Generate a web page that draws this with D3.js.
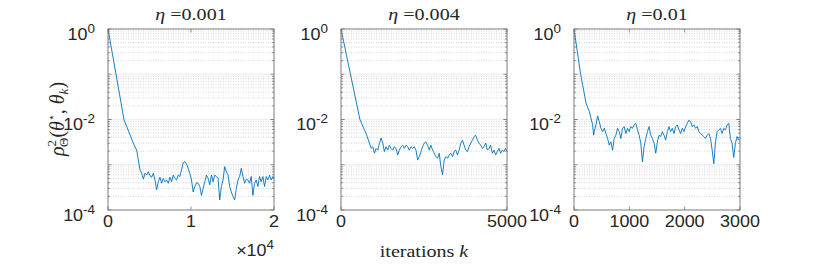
<!DOCTYPE html>
<html>
<head>
<meta charset="utf-8">
<script src="https://cdn.jsdelivr.net/npm/d3@7"></script>
<style>
  body { margin: 0; background: #fff; }
  text { fill: #262626; }
</style>
</head>
<body>
<div id="chart"></div>
<script>
// step sizes shown in the panel titles
const etas = ["0.001", "0.004", "0.01"];
const xMaxes = [20000, 5000, 3000];
const xTicks = [[0, 10000, 20000], [0, 5000], [0, 1000, 2000, 3000]];
const xTickLabels = [["0", "1", "2"], ["0", "5000"], ["0", "1000", "2000", "3000"]];
const yTicks = [1e-4, 1e-2, 1];
const yTickExps = ["-4", "-2", "0"];

// [iteration k, rho^2]
const series1 = [
  [0, 1], [1000, 0.092], [1930, 0.0098], [3050, 3.0e-3], [3450, 2.1e-3], [3860, 7.7e-4],
  [4060, 6.5e-4], [4260, 4.8e-4], [4460, 6.5e-4], [4660, 5.9e-4], [4860, 7.0e-4], [5060, 5.7e-4],
  [5260, 5.3e-4], [5460, 6.5e-4], [5660, 4.6e-4], [5860, 2.8e-4], [6060, 4.2e-4], [6260, 5.3e-4],
  [6460, 3.9e-4], [6660, 5.0e-4], [6860, 4.2e-4], [7060, 4.6e-4], [7260, 3.9e-4], [7460, 5.3e-4],
  [7660, 4.2e-4], [7860, 5.9e-4], [8060, 5.0e-4], [8260, 4.6e-4], [8460, 5.9e-4], [8660, 5.5e-4],
  [8860, 7.7e-4], [9060, 1.11e-3], [9260, 1.17e-3], [9460, 1.04e-3], [9660, 8.3e-4], [9860, 6.5e-4],
  [10060, 4.6e-4], [10260, 2.5e-4], [10460, 3.3e-4], [10660, 4.0e-4], [10860, 3.9e-4], [11060, 3.3e-4],
  [11260, 2.1e-4], [11460, 3.0e-4], [11660, 4.2e-4], [11860, 5.9e-4], [12060, 5.0e-4], [12260, 3.6e-4],
  [12460, 5.9e-4], [12660, 4.2e-4], [12860, 5.9e-4], [13060, 5.5e-4], [13260, 5.0e-4], [13460, 1.66e-4],
  [13660, 3.3e-4], [13860, 4.6e-4], [14060, 9.1e-4], [14260, 7.0e-4], [14460, 5.9e-4], [14660, 3.3e-4],
  [14860, 2.5e-4], [15060, 2.0e-4], [15260, 1.66e-4], [15460, 3.0e-4], [15660, 4.6e-4], [15860, 5.5e-4],
  [16060, 8.3e-4], [16260, 5.5e-4], [16460, 3.9e-4], [16660, 4.8e-4], [16860, 4.6e-4], [17060, 3.9e-4],
  [17260, 5.5e-4], [17460, 2.1e-4], [17660, 3.9e-4], [17860, 4.6e-4], [18060, 3.3e-4], [18260, 5.5e-4],
  [18460, 4.2e-4], [18660, 5.5e-4], [18860, 3.3e-4], [19060, 5.5e-4], [19260, 4.6e-4], [19460, 5.9e-4],
  [19660, 4.6e-4], [19860, 5.5e-4], [20000, 5.0e-4]
];

const series2 = [
  [0, 1], [570, 0.01], [620, 8.2e-3], [760, 4.8e-3], [858, 3.0e-3], [908, 2.3e-3],
  [958, 2.5e-3], [1008, 1.8e-3], [1058, 2.3e-3], [1108, 2.1e-3], [1158, 3.0e-3], [1208, 3.9e-3],
  [1258, 3.0e-3], [1308, 1.95e-3], [1358, 2.5e-3], [1408, 2.1e-3], [1458, 2.7e-3], [1508, 2.3e-3],
  [1558, 2.1e-3], [1608, 2.5e-3], [1658, 2.3e-3], [1708, 1.64e-3], [1758, 2.1e-3], [1808, 2.5e-3],
  [1858, 2.7e-3], [1908, 2.3e-3], [1958, 2.7e-3], [2008, 2.5e-3], [2058, 2.1e-3], [2108, 2.5e-3],
  [2158, 2.3e-3], [2208, 2.5e-3], [2258, 2.1e-3], [2308, 1.27e-3], [2358, 1.51e-3], [2408, 1.95e-3],
  [2458, 2.5e-3], [2508, 3.0e-3], [2558, 3.2e-3], [2608, 2.7e-3], [2658, 2.1e-3], [2708, 2.7e-3],
  [2758, 2.1e-3], [2808, 1.8e-3], [2858, 1.51e-3], [2908, 1.39e-3], [2958, 1.8e-3], [3008, 9.1e-4],
  [3058, 6.0e-4], [3108, 1.27e-3], [3158, 1.51e-3], [3208, 1.39e-3], [3258, 1.64e-3], [3308, 1.8e-3],
  [3358, 1.51e-3], [3408, 1.95e-3], [3458, 2.1e-3], [3508, 1.64e-3], [3558, 2.1e-3], [3608, 3.0e-3],
  [3658, 3.5e-3], [3708, 2.7e-3], [3758, 2.1e-3], [3808, 1.95e-3], [3858, 2.5e-3], [3908, 3.0e-3],
  [3958, 3.5e-3], [4008, 4.2e-3], [4058, 4.5e-3], [4108, 3.5e-3], [4158, 3.0e-3], [4208, 2.7e-3],
  [4258, 2.3e-3], [4308, 2.5e-3], [4358, 3.0e-3], [4408, 2.1e-3], [4458, 2.3e-3], [4508, 2.7e-3],
  [4558, 1.8e-3], [4608, 2.1e-3], [4658, 1.64e-3], [4708, 1.95e-3], [4758, 2.3e-3], [4808, 1.8e-3],
  [4858, 2.1e-3], [4908, 1.95e-3], [4958, 2.3e-3], [5000, 1.95e-3]
];

const series3 = [
  [0, 1], [120, 0.1], [157, 0.058], [217, 0.023], [277, 0.0149], [337, 7.6e-3], [355, 4.5e-3],
  [367, 5.4e-3], [397, 7.6e-3], [427, 1.2e-2], [457, 8.95e-3], [487, 6.4e-3], [517, 5.4e-3],
  [547, 6.4e-3], [577, 4.9e-3], [607, 3.8e-3], [637, 2.7e-3], [667, 3.2e-3], [697, 2.1e-3],
  [727, 3.8e-3], [757, 4.5e-3], [787, 6.4e-3], [817, 5.4e-3], [847, 3.8e-3], [877, 6.4e-3],
  [907, 6.95e-3], [937, 4.9e-3], [967, 6.4e-3], [997, 5.4e-3], [1027, 6.95e-3], [1057, 6.4e-3],
  [1087, 7.6e-3], [1117, 8.2e-3], [1147, 5.9e-3], [1177, 4.5e-3], [1207, 3.0e-3], [1237, 1.15e-3],
  [1267, 2.5e-3], [1297, 3.8e-3], [1327, 5.4e-3], [1357, 6.95e-3], [1387, 4.5e-3], [1417, 3.8e-3],
  [1447, 3.0e-3], [1477, 1.8e-3], [1507, 3.2e-3], [1537, 4.5e-3], [1567, 4.2e-3], [1597, 5.4e-3],
  [1627, 4.5e-3], [1657, 3.5e-3], [1687, 5.4e-3], [1717, 6.95e-3], [1747, 5.4e-3], [1777, 6.4e-3],
  [1807, 4.9e-3], [1837, 6.95e-3], [1867, 7.6e-3], [1897, 5.9e-3], [1927, 4.9e-3], [1957, 6.4e-3],
  [1987, 5.4e-3], [2017, 6.95e-3], [2047, 8.2e-3], [2077, 9.7e-3], [2107, 8.95e-3], [2137, 6.95e-3],
  [2167, 7.6e-3], [2197, 6.4e-3], [2227, 6.95e-3], [2257, 5.4e-3], [2287, 4.9e-3], [2317, 4.5e-3],
  [2347, 4.2e-3], [2377, 3.8e-3], [2407, 4.5e-3], [2437, 4.9e-3], [2467, 3.8e-3], [2497, 2.1e-3],
  [2527, 1.05e-3], [2557, 3.2e-3], [2587, 5.4e-3], [2617, 5.9e-3], [2647, 6.4e-3], [2677, 4.9e-3],
  [2707, 6.4e-3], [2737, 5.9e-3], [2767, 7.6e-3], [2797, 8.2e-3], [2827, 3.8e-3], [2857, 3.0e-3],
  [2887, 1.45e-3], [2917, 3.0e-3], [2947, 4.2e-3], [2977, 3.5e-3], [3000, 3.8e-3]
];

const allSeries = [series1, series2, series3];

const width = 830, height = 268;
const plotTop = 29, plotBottom = 210;
const panelLeft = [108, 341, 574];
const panelWidth = 166;
const lineColor = "#0072bd";
const axisColor = "#7a7a7a";
const sans = "'Liberation Sans', Arial, sans-serif";
const serif = "'Liberation Serif', 'Times New Roman', serif";
// the picture's text is drawn a bit wide
const sansStretch = 1.12, serifStretch = 1.18;

const svg = d3.select("#chart").append("svg")
    .attr("width", width)
    .attr("height", height);

function addText(parent, x, yy, anchor, family, size, stretch) {
    return parent.append("text")
        .attr("transform", `translate(${x},${yy}) scale(${stretch},1)`)
        .attr("text-anchor", anchor)
        .style("font-family", family)
        .style("font-size", size + "px");
}

const y = d3.scaleLog()
    .domain([1e-4, 1])
    .range([plotBottom, plotTop]);

// minor values 2..9 x 10^e
const minorVals = [];
for (let e = -4; e < 0; e++) {
    for (let m = 2; m <= 9; m++) minorVals.push(m * Math.pow(10, e));
}
const majorVals = [1e-3, 1e-2, 1e-1];

allSeries.forEach((data, i) => {
    const x0 = panelLeft[i], x1 = x0 + panelWidth;
    const x = d3.scaleLinear().domain([0, xMaxes[i]]).range([x0, x1]);
    const g = svg.append("g");

    // grid
    g.selectAll(".major").data(majorVals).enter().append("line")
        .attr("x1", x0).attr("x2", x1)
        .attr("y1", d => y(d)).attr("y2", d => y(d))
        .attr("stroke", "#efefef")
        .attr("stroke-width", 1.6);
    g.selectAll(".minor").data(minorVals).enter().append("line")
        .attr("x1", x0).attr("x2", x1)
        .attr("y1", d => y(d)).attr("y2", d => y(d))
        .attr("stroke", "#c4c4c4")
        .attr("stroke-width", 0.7)
        .attr("stroke-dasharray", "1,1.5");

    // the curve
    g.append("path")
        .datum(data)
        .attr("fill", "none")
        .attr("stroke", lineColor)
        .attr("stroke-width", 0.9)
        .attr("stroke-linejoin", "round")
        .attr("d", d3.line().x(d => x(d[0])).y(d => y(d[1])));

    // box
    g.append("rect")
        .attr("x", x0).attr("y", plotTop)
        .attr("width", panelWidth).attr("height", plotBottom - plotTop)
        .attr("fill", "none")
        .attr("stroke", axisColor)
        .attr("stroke-width", 1);

    // y ticks, inward on both sides
    [[minorVals, 2], [majorVals.concat(yTicks), 3.5]].forEach(([vals, len]) => {
        vals.forEach(v => {
            const yy = y(v);
            g.append("line").attr("x1", x0).attr("x2", x0 + len).attr("y1", yy).attr("y2", yy)
                .attr("stroke", axisColor).attr("stroke-width", 0.8);
            g.append("line").attr("x1", x1 - len).attr("x2", x1).attr("y1", yy).attr("y2", yy)
                .attr("stroke", axisColor).attr("stroke-width", 0.8);
        });
    });

    // x ticks, bottom and top
    xTicks[i].forEach(t => {
        g.append("line").attr("x1", x(t)).attr("x2", x(t)).attr("y1", plotBottom).attr("y2", plotBottom - 3.5)
            .attr("stroke", axisColor).attr("stroke-width", 0.8);
        g.append("line").attr("x1", x(t)).attr("x2", x(t)).attr("y1", plotTop).attr("y2", plotTop + 3.5)
            .attr("stroke", axisColor).attr("stroke-width", 0.8);
    });

    // x tick labels
    xTicks[i].forEach((t, j) => {
        addText(g, x(t), 227, "middle", sans, 16, sansStretch).text(xTickLabels[i][j]);
    });

    // y tick labels 10^e
    yTicks.forEach((v, j) => {
        const t = addText(g, x0 - 13, y(v) + 10.5, "end", sans, 16, sansStretch);
        t.append("tspan").text("10");
        t.append("tspan").attr("dy", -7).style("font-size", "12px").text(yTickExps[j]);
    });

    // title
    const title = addText(g, (x0 + x1) / 2, 20, "middle", serif, 17, serifStretch);
    title.append("tspan").style("font-style", "italic").text("η");
    title.append("tspan").text(" =" + etas[i]);
});

// x10^4 exponent under the first panel
const mult = addText(svg, 274, 256, "end", sans, 16, sansStretch);
mult.append("tspan").text("×10");
mult.append("tspan").attr("dy", -7).style("font-size", "12px").text("4");

// x label
const xl = addText(svg, 424, 257, "middle", serif, 17, serifStretch);
xl.append("tspan").text("iterations ");
xl.append("tspan").style("font-style", "italic").text("k");

// y label
const yl = svg.append("text")
    .attr("transform", "translate(64,119) rotate(-90)")
    .attr("text-anchor", "middle")
    .style("font-family", serif)
    .style("font-size", "20px");
yl.append("tspan").style("font-style", "italic").text("ρ");
yl.append("tspan").attr("dy", -8).style("font-size", "13px").text("2");
yl.append("tspan").attr("dx", -7).attr("dy", 12).style("font-size", "13px").text("Θ");
yl.append("tspan").attr("dy", -4).text("(");
yl.append("tspan").style("font-style", "italic").text("θ");
yl.append("tspan").attr("dy", -9).style("font-size", "11px").style("font-family", "'DejaVu Sans'").text("⋆");
yl.append("tspan").attr("dy", 9).text(", ");
yl.append("tspan").style("font-style", "italic").text("θ");
yl.append("tspan").attr("dy", 4).style("font-size", "13px").style("font-style", "italic").text("k");
yl.append("tspan").attr("dy", -4).text(")");
</script>
</body>
</html>
